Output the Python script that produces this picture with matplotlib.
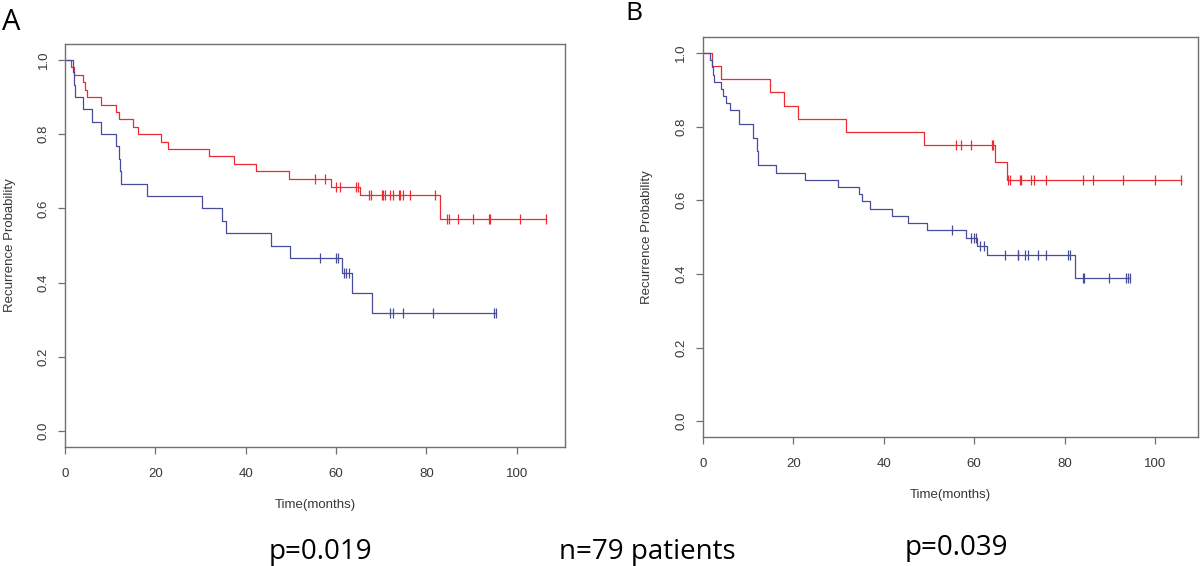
import matplotlib
matplotlib.use('Agg')
import matplotlib.pyplot as plt
import numpy as np

# panel A, red group: step times / levels, censored times
a_red_t = [0, 1.3, 2.0, 4.0, 4.4, 4.9, 8.0, 11.2, 12.0, 15.0, 16.1, 21.2, 22.7, 31.9, 37.3, 42.2, 49.5, 58.8, 65.2, 83.1]
a_red_s = [1.0, 0.98, 0.96, 0.94, 0.92, 0.90, 0.88, 0.86, 0.84, 0.82, 0.80, 0.78, 0.76, 0.74, 0.72, 0.70, 0.68, 0.659, 0.635, 0.571]
a_red_c = [55.4, 57.6, 59.9, 60.9, 64.5, 64.8, 67.4, 67.8, 70.2, 70.4, 70.8, 72.0, 72.7, 73.9, 74.2, 74.8, 76.3, 81.9,
           84.6, 84.9, 87.0, 90.4, 93.8, 94.1, 100.8, 106.5]

# panel A, blue group
a_blue_t = [0, 1.8, 2.0, 2.2, 4.0, 6.0, 8.0, 11.2, 12.0, 12.2, 12.4, 18.2, 30.3, 34.8, 35.7, 45.6, 49.8, 61.3, 63.5, 67.9]
a_blue_s = [1.0, 0.967, 0.933, 0.90, 0.867, 0.833, 0.80, 0.767, 0.733, 0.70, 0.667, 0.633, 0.60, 0.567, 0.533, 0.50, 0.467, 0.425, 0.373, 0.317]
a_blue_c = [56.4, 59.9, 60.5, 61.7, 62.3, 62.9, 71.9, 72.6, 74.9, 81.4, 94.9, 95.5]

# panel B, red group
b_red_t = [0, 2.0, 4.0, 14.9, 18.0, 21.1, 31.7, 49.0, 64.7, 67.3]
b_red_s = [1.0, 0.964, 0.929, 0.893, 0.857, 0.821, 0.786, 0.75, 0.703, 0.656]
b_red_c = [56.0, 57.1, 59.3, 64.0, 64.2, 67.5, 67.9, 70.2, 70.4, 72.6, 73.3, 75.9, 84.1, 86.3, 93.0, 100.0, 105.7]

# panel B, blue group
b_blue_t = [0, 1.6, 2.0, 2.2, 2.4, 4.0, 4.4, 5.1, 6.0, 8.0, 11.2, 11.9, 12.3, 16.1, 22.7, 30.0, 34.6, 35.3, 37.0,
            41.9, 45.3, 49.5, 58.3, 60.7, 62.9, 82.4]
b_blue_s = [1.0, 0.98, 0.961, 0.941, 0.922, 0.902, 0.884, 0.865, 0.845, 0.806, 0.768, 0.735, 0.695, 0.675, 0.655,
            0.636, 0.616, 0.597, 0.577, 0.558, 0.538, 0.518, 0.498, 0.477, 0.452, 0.388]
b_blue_c = [55.0, 59.3, 60.0, 60.4, 61.3, 62.2, 66.9, 69.6, 69.8, 71.3, 71.8, 74.2, 75.8, 80.7, 81.1, 84.0, 84.3,
            89.7, 93.5, 94.0, 94.5]

x_ticks = [0, 20, 40, 60, 80, 100]
y_ticks = [0.0, 0.2, 0.4, 0.6, 0.8, 1.0]
y_ticklabels = ['0.0', '0.2', '0.4', '0.6', '0.8', '1.0']

RED = '#ee2a33'
BLUE = '#474d9c'
AXC = '#707070'
TXT = '#3a3634'

plt.rcParams['font.family'] = ['Liberation Sans', 'DejaVu Sans']


def km(ax, t, s, c, color):
    t = np.array(t)
    s = np.array(s)
    c = np.array(c)
    end = max(c.max(), t.max())
    ax.step(np.append(t, end), np.append(s, s[-1]), where='post', color=color, lw=0.9)
    idx = np.searchsorted(t, c, side='right') - 1
    ax.plot(c, s[idx], ls='none', marker='|', ms=7, mew=0.9, color=color)


def style(ax, xmax, ymin, ymax):
    ax.set_xlim(0, xmax)
    ax.set_ylim(ymin, ymax)
    ax.set_xticks(x_ticks)
    ax.set_yticks(y_ticks)
    ax.set_yticklabels(y_ticklabels, rotation=90, va='center')
    ax.tick_params(direction='out', length=5, width=0.9, color=AXC, labelcolor=TXT, labelsize=9.5, pad=6)
    ax.tick_params(axis='x', pad=10)
    for sp in ax.spines.values():
        sp.set_color(AXC)
        sp.set_linewidth(1.0)
    ax.set_xlabel('Time(months)', fontsize=9.5, color=TXT, labelpad=14)
    ax.set_ylabel('Recurrence Probability', fontsize=9.5, color=TXT, labelpad=16)


fig = plt.figure(figsize=(12, 5.66), dpi=100)

axA = fig.add_axes([0.0542, 0.2102, 0.4167, 0.712])
km(axA, a_red_t, a_red_s, a_red_c, RED)
km(axA, a_blue_t, a_blue_s, a_blue_c, BLUE)
style(axA, 110.7, -0.043, 1.043)

axB = fig.add_axes([0.5856, 0.2284, 0.4128, 0.7067])
km(axB, b_red_t, b_red_s, b_red_c, RED)
km(axB, b_blue_t, b_blue_s, b_blue_c, BLUE)
style(axB, 109.5, -0.042, 1.044)

fig.text(11.5 / 1200, 1 - 22.5 / 566, 'A', fontsize=21, ha='center', va='center', family=['Open Sans', 'DejaVu Sans'])
fig.text(634 / 1200, 1 - 14 / 566, 'B', fontsize=19, ha='center', va='center', family=['Open Sans', 'DejaVu Sans'])

fig.text(320 / 1200, 1 - 552 / 566, 'p=0.019', fontsize=20, ha='center', va='center', family=['Open Sans', 'DejaVu Sans'])
fig.text(647 / 1200, 1 - 552 / 566, 'n=79 patients', fontsize=20, ha='center', va='center', family=['Open Sans', 'DejaVu Sans'])
fig.text(956 / 1200, 1 - 548 / 566, 'p=0.039', fontsize=20, ha='center', va='center', family=['Open Sans', 'DejaVu Sans'])

plt.savefig('out.png', dpi=100)
